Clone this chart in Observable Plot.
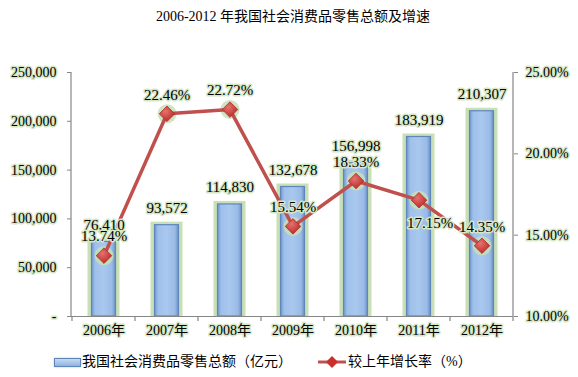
<!DOCTYPE html>
<html><head><meta charset="utf-8">
<script src="https://cdn.jsdelivr.net/npm/d3@7"></script>
<script src="https://cdn.jsdelivr.net/npm/@observablehq/plot@0.6"></script>
<style>
html,body{margin:0;padding:0;background:#fff;}
body{width:578px;height:377px;overflow:hidden;position:relative;font-family:"Liberation Serif","Noto Sans CJK SC",serif;color:#000;}
#title{position:absolute;top:5px;left:0;width:578px;text-align:center;font-size:14px;padding-left:8px;box-sizing:border-box;}
#chart{position:absolute;top:28px;left:0;}
#chart svg text{paint-order:stroke;stroke:#d6e7c6;stroke-width:3px;stroke-linejoin:round;}
#legend{position:absolute;top:352px;left:0;width:578px;height:20px;font-size:14px;}
.lg{position:absolute;top:0;line-height:20px;white-space:nowrap;}
.swbar{position:absolute;left:54px;top:6px;width:25px;height:7px;border:1px solid #5f86bb;background:linear-gradient(#c7dbf3,#8fb2e0);box-shadow:0 0 2px #b9d49c;}
</style></head><body>
<div id="title">2006-2012 年我国社会消费品零售总额及增速</div>
<div id="chart"></div>
<div id="legend">
  <span class="swbar"></span>
  <span class="lg" style="left:82px">我国社会消费品零售总额（亿元）</span>
  <svg style="position:absolute;left:317px;top:2px" width="30" height="16"><line x1="1" y1="8" x2="29" y2="8" stroke="#c0504d" stroke-width="3"/><path d="M15 2 L21 8 L15 14 L9 8 Z" fill="#c9302c"/></svg>
  <span class="lg" style="left:348px">较上年增长率（%）</span>
</div>
<script>
const years = ["2006年","2007年","2008年","2009年","2010年","2011年","2012年"];
const totals = [76410, 93572, 114830, 132678, 156998, 183919, 210307];
const growth = [13.74, 22.46, 22.72, 15.54, 18.33, 17.15, 14.35];
const leftTicks = [0, 50000, 100000, 150000, 200000, 250000];
const rightTicks = [10, 15, 20, 25];
const labelBelow = [false, false, false, false, false, true, false];

const Y_MAX = 250000, P_MIN = 10, P_MAX = 25;
const toY = p => (p - P_MIN) / (P_MAX - P_MIN) * Y_MAX;
const fromY = y => P_MIN + y / Y_MAX * (P_MAX - P_MIN);
const data = years.map((year, i) => ({year, total: totals[i], growth: growth[i], below: labelBelow[i]}));
const fmt = d3.format(",");

const plot = Plot.plot({
  width: 578, height: 320,
  marginTop: 44, marginBottom: 32, marginLeft: 71, marginRight: 65,
  style: {fontFamily: '"Liberation Serif","Noto Sans CJK SC",serif', fontSize: "14px", color: "#000", background: "transparent"},
  x: {domain: years, padding: 0, label: null},
  y: {domain: [0, Y_MAX], label: null},
  marks: [
    Plot.axisY({ticks: leftTicks, tickFormat: d => d === 0 ? "-" : fmt(d), tickSize: 4, tickPadding: 11, stroke: "#868686", fontSize: 14, label: null}),
    Plot.axisY({anchor: "right", ticks: rightTicks.map(toY), tickFormat: d => fromY(d).toFixed(2) + "%", tickSize: 4, tickPadding: 8, stroke: "#868686", fontSize: 14, label: null}),
    Plot.axisX({tickSize: 0, tickPadding: 9, fontSize: 14, label: null}),
    Plot.barY(data, {x: "year", y: "total", fill: "#c9dfb5", insetLeft: 15.5, insetRight: 15.5, insetTop: -3}),
    Plot.barY(data, {x: "year", y: "total", fill: "url(#barGrad)", stroke: "#5f86bb", strokeWidth: 1.2, insetLeft: 19.5, insetRight: 19.5}),
    Plot.ruleY([0], {stroke: "#868686", strokeWidth: 1.2}),
    Plot.dot(data, {x: "year", y: d => toY(d.growth), r: 9.5, fill: "#c9dfb5", fillOpacity: 0.85}),
    Plot.line(data, {x: "year", y: d => toY(d.growth), stroke: "#c0504d", strokeWidth: 3.5}),
    Plot.dot(data, {x: "year", y: d => toY(d.growth), symbol: "diamond2", r: 7, fill: "url(#dotGrad)", stroke: "#a8302b", strokeWidth: 0.8}),
    Plot.text(data, {x: "year", y: "total", text: d => fmt(d.total), dy: -17, fontSize: 15}),
    Plot.text(data.filter(d => !d.below), {x: "year", y: d => toY(d.growth), text: d => d.growth.toFixed(2) + "%", dy: -19, fontSize: 15}),
    Plot.text(data.filter(d => d.below), {x: "year", y: d => toY(d.growth), text: d => d.growth.toFixed(2) + "%", dy: 23, dx: 11, fontSize: 15})
  ]
});

const svg = d3.select(plot);
svg.insert("defs", ":first-child").html(`
  <linearGradient id="barGrad" x1="0" x2="1" y1="0" y2="0">
    <stop offset="0" stop-color="#6f96cc"/>
    <stop offset="0.15" stop-color="#9fc0ea"/>
    <stop offset="0.5" stop-color="#a9c8ef"/>
    <stop offset="0.85" stop-color="#9abbe6"/>
    <stop offset="1" stop-color="#6a90c6"/>
  </linearGradient>
  <radialGradient id="dotGrad" cx="0.4" cy="0.35" r="0.7">
    <stop offset="0" stop-color="#e8716c"/>
    <stop offset="1" stop-color="#b7272a"/>
  </radialGradient>`);

// axis lines and category-boundary tick marks, positioned by the plot's own scales
const xs = plot.scale("x"), ys = plot.scale("y");
const [x0, x1] = xs.range;
const [yb, yt] = ys.range;
const g = svg.append("g").attr("stroke", "#868686").attr("stroke-width", 1.2);
g.append("line").attr("x1", x0).attr("x2", x0).attr("y1", yt).attr("y2", yb);
g.append("line").attr("x1", x1).attr("x2", x1).attr("y1", yt).attr("y2", yb);
const bounds = years.map(y => xs.apply(y)).concat([x1]);
bounds.forEach(b => g.append("line").attr("x1", b).attr("x2", b).attr("y1", yb).attr("y2", yb + 5));

document.getElementById("chart").append(plot);
</script>
</body></html>
